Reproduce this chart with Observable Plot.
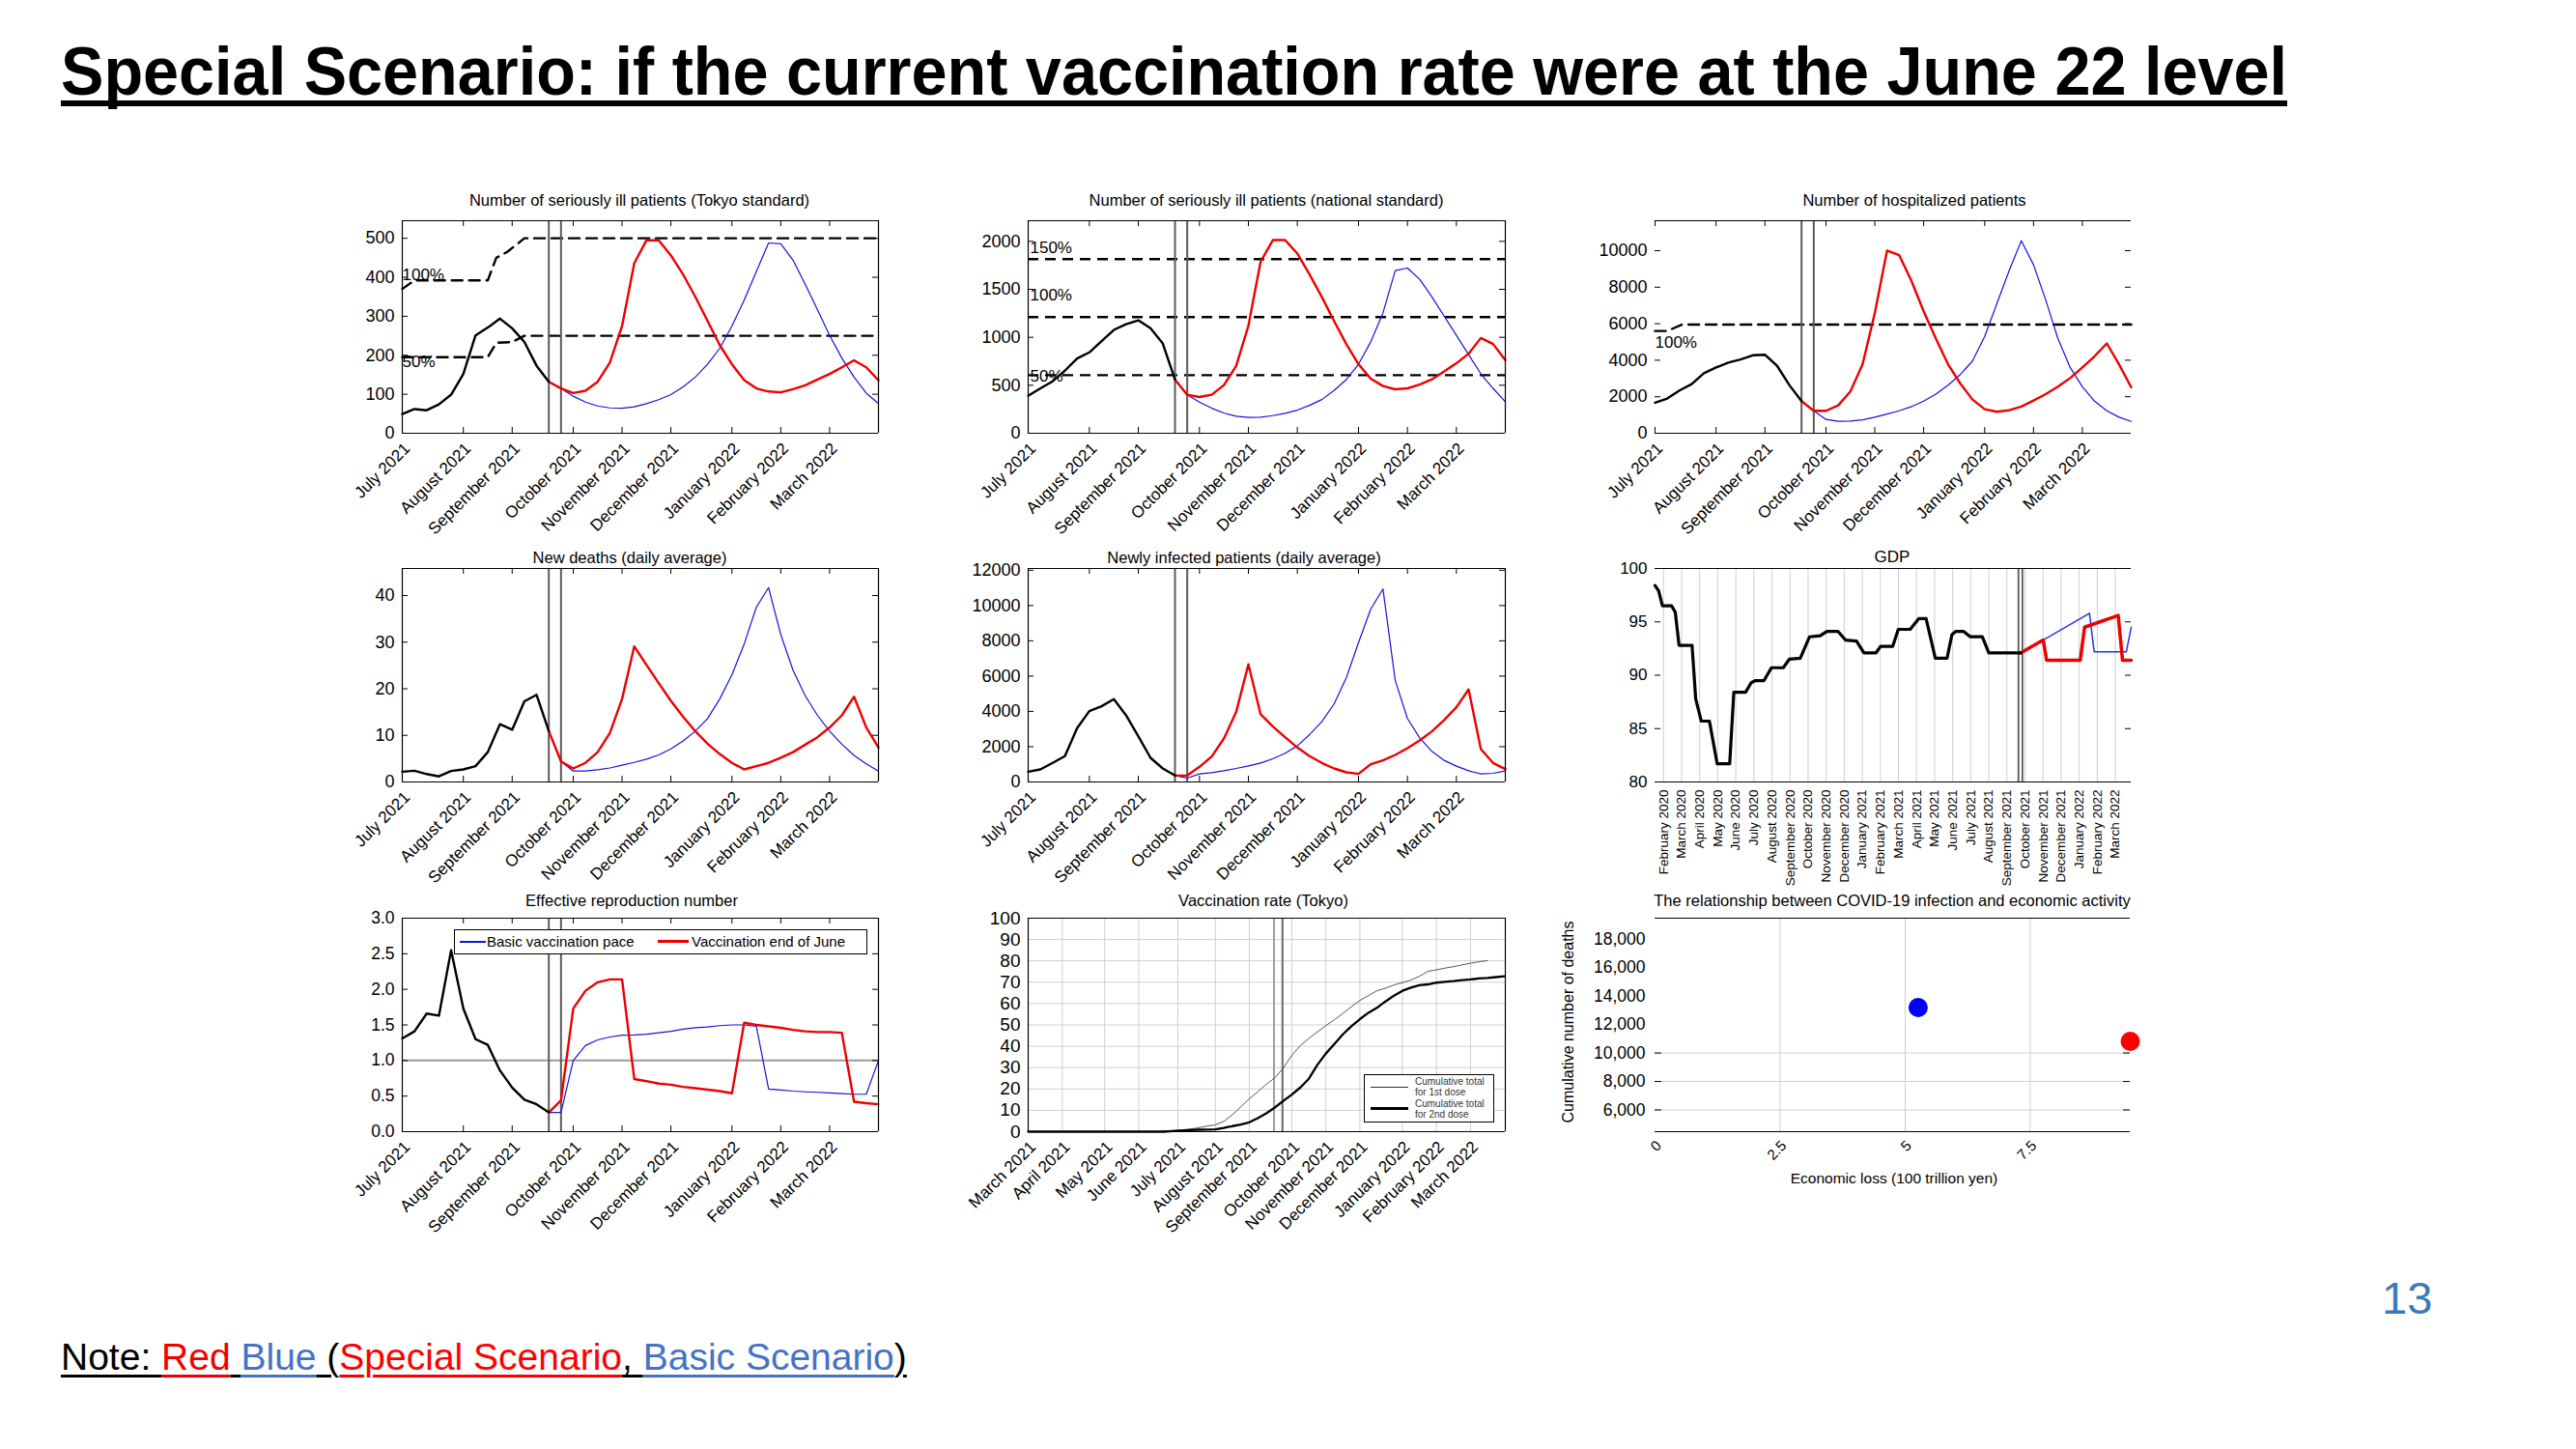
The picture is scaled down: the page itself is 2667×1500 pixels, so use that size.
<!DOCTYPE html>
<html><head><meta charset="utf-8">
<script src="https://cdn.jsdelivr.net/npm/d3@7"></script>
<script src="https://cdn.jsdelivr.net/npm/@observablehq/plot@0.6"></script>
<style>
body{margin:0;background:#fff;}
#page{position:relative;width:2667px;height:1500px;background:#fff;overflow:hidden;font-family:"Liberation Sans",Arial,Helvetica,sans-serif;}
.ptitle{position:absolute;font-size:16.5px;color:#000;white-space:nowrap;transform:translate(-50%,-50%);}
</style></head><body><div id="page"></div>
<script>
// ================= DATA =================
const TITLE = "Special Scenario: if the current vaccination rate were at the June 22 level";
const panelTitles = ["Number of seriously ill patients (Tokyo standard)","Number of seriously ill patients (national standard)","Number of hospitalized patients","New deaths (daily average)","Newly infected patients (daily average)","GDP","Effective reproduction number","Vaccination rate  (Tokyo)","The relationship between COVID-19 infection and economic activity"];

// weekly x axis (week 0 = start of July 2021)
const weekTicks = [0,5,9,14,18,22,27,31,35];
const weekTickLabels = ["July 2021","August 2021","September 2021","October 2021","November 2021","December 2021","January 2022","February 2022","March 2022"];
const markerWeeks = [12,13];
// black = observed (weeks 0-12), red = special scenario (weeks 12-39), blue = basic scenario (weeks 12-39)

const tokyoBlack = [49,62,59,74,99,152,251,271,294,269,234,173,132];
const tokyoRed = [132,115,103,109,132,181,275,436,495,495,456,407,350,288,226,177,136,115,107,105,113,123,138,152,169,187,169,136];
const tokyoBlue = [132,115,95,80,70,65,64,68,76,86,99,119,144,177,218,275,341,415,488,486,444,382,317,251,193,144,103,76];
const tokyoCap100W = [0,1,7,7.7,8.6,10,39];
const tokyoCap100V = [370,392,392,450,465,500,500];
const tokyoCap50W = [0,7,7.7,9,10,39];
const tokyoCap50V = [195,195,232,234,250,250];
const tokyoCapLabels = ["100%","50%"];
const tokyoCapLabelY = [405,183];

const natBlack = [391,468,542,652,779,843,960,1077,1137,1177,1094,936,560];
const natRed = [560,401,378,401,502,702,1120,1789,2013,2013,1873,1655,1421,1171,930,719,569,492,458,468,508,562,645,729,829,993,930,763];
const natBlue = [560,401,324,261,211,177,164,167,184,207,241,291,351,445,559,719,953,1254,1696,1722,1605,1421,1221,1020,819,619,468,328];
const natLevels = [605,1210,1815];
const natLevelLabels = ["50%","100%","150%"];
const natLevelLabelY = [594,1441,1937];

const hospBlack = [1670,1900,2340,2690,3290,3600,3870,4040,4270,4300,3690,2640,1760];
const hospRed = [1760,1230,1230,1529,2285,3779,6590,10000,9750,8348,6678,5184,3779,2724,1845,1318,1177,1265,1459,1793,2144,2548,3023,3603,4218,4921,3779,2513];
const hospBlue = [1760,1230,756,650,668,738,879,1054,1230,1459,1757,2144,2636,3216,3954,5300,7100,8900,10545,9227,7293,5184,3603,2548,1757,1230,879,650];
const hospCapW = [0,1,2.2,39];
const hospCapV = [5600,5600,5950,5950];
const hospCapLabelY = [4960];

const deathsBlack = [2.2,2.4,1.7,1.2,2.35,2.7,3.4,6.4,12.4,11.2,17.3,18.7,10.9];
const deathsRed = [10.9,4.4,2.9,4.1,6.4,10.5,17.8,29.1,25.1,21.2,17.4,14.0,10.9,8.2,6.0,4.1,2.7,3.4,4.1,5.2,6.4,8.0,9.6,11.7,14.3,18.3,11.7,7.4];
const deathsBlue = [10.9,4.4,2.35,2.35,2.6,3.0,3.6,4.2,4.9,5.8,7.1,8.8,10.9,13.6,17.8,23.0,29.6,37.5,41.7,31.6,24.0,18.5,14.3,10.9,8.1,5.7,3.9,2.35];

const infBlack = [584,712,1078,1461,3050,4018,4292,4694,3781,2594,1370,767,365];
const infRed = [365,365,858,1443,2466,3963,6667,3836,3142,2539,1954,1461,1078,767,548,457,1005,1224,1534,1918,2356,2868,3507,4237,5242,1863,1078,731];
const infBlue = [365,219,457,530,639,767,913,1078,1315,1626,2046,2685,3415,4420,5900,7900,9800,10940,5753,3598,2502,1735,1224,895,639,457,493,621];

// GDP (month index: 0 = February 2020)
const gdpMonthLabels = ["February 2020","March 2020","April 2020","May 2020","June 2020","July 2020","August 2020","September 2020","October 2020","November 2020","December 2020","January 2021","February 2021","March 2021","April 2021","May 2021","June 2021","July 2021","August 2021","September 2021","October 2021","November 2021","December 2021","January 2022","February 2022","March 2022"];
const gdpBlackM = [-0.47,-0.27,-0.06,0.45,0.65,0.86,1.58,1.78,2.09,2.54,2.97,3.66,3.89,4.54,4.85,5.09,5.56,5.97,6.63,6.96,7.57,8.08,8.67,9.04,9.66,10.07,10.68,11.09,11.76,12.01,12.68,12.99,13.65,14.12,14.53,15.04,15.69,15.96,16.16,16.61,16.98,17.64,18.0,19.78];
const gdpBlackV = [98.4,97.9,96.5,96.5,95.9,92.8,92.8,87.8,85.7,85.7,81.7,81.7,88.4,88.4,89.3,89.5,89.5,90.7,90.7,91.5,91.6,93.6,93.7,94.1,94.1,93.3,93.2,92.1,92.1,92.7,92.7,94.3,94.3,95.3,95.3,91.6,91.6,93.8,94.1,94.1,93.6,93.6,92.1,92.1];
const gdpRedM = [19.78,21.01,21.2,23.06,23.3,25.16,25.4,25.88];
const gdpRedV = [92.1,93.3,91.4,91.4,94.5,95.6,91.4,91.4];
const gdpBlueM = [19.78,21.01,23.57,23.83,25.61,25.88];
const gdpBlueV = [92.1,93.3,95.8,92.2,92.2,94.5];
const gdpMarkers = [19.64,19.86];

const rtBlack = [1.31,1.41,1.66,1.63,2.55,1.73,1.30,1.22,0.86,0.62,0.45,0.385,0.27];
const rtRed = [0.27,0.44,1.73,1.98,2.10,2.14,2.14,0.74,0.71,0.675,0.66,0.63,0.61,0.59,0.57,0.54,1.53,1.50,1.48,1.46,1.43,1.41,1.40,1.40,1.39,0.42,0.40,0.385];
const rtBlue = [0.27,0.27,1.0,1.21,1.29,1.33,1.355,1.36,1.37,1.39,1.41,1.44,1.46,1.47,1.49,1.50,1.50,1.48,0.60,0.585,0.57,0.56,0.553,0.544,0.535,0.526,0.526,1.0];
const rtThreshold = [1];
const rtLegend = ["Basic vaccination pace","Vaccination end of June"];

// Vaccination rate (week index: 0 = start of March 2021)
const vaxTicks = [0,4,9,13,17.6,22,26,31,35,39,44,48,52];
const vaxTickLabels = ["March 2021","April 2021","May 2021","June 2021","July 2021","August 2021","September 2021","October 2021","November 2021","December 2021","January 2022","February 2022","March 2022"];
const vaxDose1 = [0,0,0,0,0,0,0,0,0,0,0,0,0,0,0,0,0.3,0.5,0.8,1.2,1.8,2.6,3.2,4.8,7.9,11.6,15.4,18.7,22.2,25.2,29.8,35.8,40.3,43.7,46.7,49.7,52.4,55.4,58.5,61.5,63.7,66,67.2,68.7,69.8,71,72.8,75.1,75.8,76.6,77.3,78.1,78.9,79.6,80.1];
const vaxDose2 = [0,0,0,0,0,0,0,0,0,0,0,0,0,0,0,0,0,0.3,0.5,0.7,0.9,1.0,1.1,1.8,2.6,3.3,4.4,6.3,8.6,11.3,14.4,17.4,20.7,24.8,31.3,36.6,41.1,45.6,49.4,52.7,55.7,58,61,63.7,66,67.5,68.6,69,69.8,70.2,70.5,71,71.3,71.8,72,72.4,72.8];
const vaxMarkers = [28.9,29.9];
const vaxLegend = [["Cumulative total","for 1st dose"],["Cumulative total","for 2nd dose"]];

// Scatter
const scatterScenario = ["Basic Scenario","Special Scenario"];
const scatterLoss = [5.26,9.5];
const scatterDeaths = [13200,10820];
const scatterXTicks = [0,2.5,5,7.5];
const scatterYTicks = [6000,8000,10000,12000,14000,16000,18000];
const scatterGridY = [6000,8000,10000];

// ================= RENDER =================
const page = document.getElementById("page");
const FONT = '"Liberation Sans", Arial, Helvetica, sans-serif';
const RED = "#ee0000", BLUE = "#1414dc", VLINE = "#5a5a5a", GRID = "#cfcfcf";
const XFS = 17;

const seq = (vals, start) => vals.map((v, i) => ({w: start + i, v}));
const zip = (ws, vs) => ws.map((w, i) => ({w, v: vs[i]}));
const lookup = (ticks, labels) => { const m = new Map(ticks.map((t, i) => [t, labels[i]])); return d => m.get(d); };

function innerY(ticks, fw, sides = "lr", len = 6) {
  const m = [];
  if (sides.includes("l")) m.push(Plot.tickY(ticks, {y: d => d, stroke: "#000", strokeWidth: 1, insetRight: fw - len}));
  if (sides.includes("r")) m.push(Plot.tickY(ticks, {y: d => d, stroke: "#000", strokeWidth: 1, insetLeft: fw - len}));
  return m;
}
function innerX(ticks, fh, len = 6) {
  return [Plot.tickX(ticks, {x: d => d, stroke: "#000", strokeWidth: 1, insetTop: fh - len}),
          Plot.tickX(ticks, {x: d => d, stroke: "#000", strokeWidth: 1, insetBottom: fh - len})];
}
function box(xd, yd, sides) {
  const m = [];
  if (sides.includes("t")) m.push(Plot.ruleY([yd[1]], {stroke: "#000", strokeWidth: 1.2}));
  if (sides.includes("b")) m.push(Plot.ruleY([yd[0]], {stroke: "#000", strokeWidth: 1.2}));
  if (sides.includes("l")) m.push(Plot.ruleX([xd[0]], {stroke: "#000", strokeWidth: 1.2}));
  if (sides.includes("r")) m.push(Plot.ruleX([xd[1]], {stroke: "#000", strokeWidth: 1.2}));
  return m;
}
function panel(o) {
  const {fl, ft, fw, fh, mL = 90, mR = 20, mT = 14, mB = 160, xd, yd, marks, fs = 15} = o;
  const svg = Plot.plot({
    width: mL + fw + mR, height: mT + fh + mB,
    marginLeft: mL, marginRight: mR, marginTop: mT, marginBottom: mB,
    x: {domain: xd}, y: {domain: yd},
    style: {fontFamily: FONT, fontSize: fs + "px", background: "transparent", overflow: "visible", color: "#000"},
    marks
  });
  Object.assign(svg.style, {position: "absolute", left: (fl - mL) + "px", top: (ft - mT) + "px"});
  page.appendChild(svg);
}
function html(tag, css, text) {
  const e = document.createElement(tag);
  e.style.cssText = css;
  if (text != null) e.textContent = text;
  page.appendChild(e);
  return e;
}

const fmtInt = d => String(d);

function weekPanel(o) {
  const {fl, ft, fw = 493, fh = 220, yd, yTicks, yFmt = fmtInt, black, red, blue, extra = [], sides = "tblr", fs = 18, tickSides = "lr"} = o;
  const xd = [0, 39];
  panel({fl, ft, fw, fh, xd, yd, fs, marks: [
    ...extra,
    Plot.ruleX(markerWeeks, {stroke: VLINE, strokeWidth: 2}),
    Plot.line(seq(blue, 12), {x: "w", y: "v", stroke: BLUE, strokeWidth: 1.2}),
    Plot.line(seq(red, 12), {x: "w", y: "v", stroke: RED, strokeWidth: 2.4}),
    Plot.line(seq(black, 0), {x: "w", y: "v", stroke: "#000", strokeWidth: 2.4}),
    ...box(xd, yd, sides),
    ...innerY(yTicks, fw, tickSides),
    ...innerX(weekTicks, fh),
    Plot.axisY({ticks: yTicks, tickSize: 0, tickPadding: 8, fontSize: fs, label: null, tickFormat: yFmt}),
    Plot.axisX({ticks: weekTicks, tickFormat: lookup(weekTicks, weekTickLabels), tickRotate: -45, tickSize: 0, tickPadding: 13, dx: 5, fontSize: XFS, label: null})
  ]});
}

const dashStyle = {stroke: "#000", strokeWidth: 2.4, strokeDasharray: "11,7"};

// Panel 1 – Tokyo standard
weekPanel({fl: 416, ft: 228, yd: [0, 545], yTicks: [0,100,200,300,400,500], black: tokyoBlack, red: tokyoRed, blue: tokyoBlue,
  extra: [
    Plot.line(zip(tokyoCap100W, tokyoCap100V), {x: "w", y: "v", ...dashStyle}),
    Plot.line(zip(tokyoCap50W, tokyoCap50V), {x: "w", y: "v", ...dashStyle}),
    Plot.text(tokyoCapLabels, {x: () => 0, y: (d, i) => tokyoCapLabelY[i], text: d => d, textAnchor: "start", fontSize: 17})
  ]});

// Panel 2 – national standard
weekPanel({fl: 1064, ft: 228, fw: 494, yd: [0, 2215], yTicks: [0,500,1000,1500,2000], black: natBlack, red: natRed, blue: natBlue,
  extra: [
    Plot.ruleY(natLevels, {...dashStyle}),
    Plot.text(natLevelLabels, {x: () => 0, y: (d, i) => natLevelLabelY[i], text: d => d, textAnchor: "start", dx: 2, fontSize: 17})
  ]});

// Panel 3 – hospitalized
weekPanel({fl: 1713, ft: 228, yd: [0, 11640], yTicks: [0,2000,4000,6000,8000,10000], black: hospBlack, red: hospRed, blue: hospBlue, sides: "tb",
  extra: [
    Plot.line(zip(hospCapW, hospCapV), {x: "w", y: "v", ...dashStyle}),
    Plot.text(["100%"], {x: () => 0, y: (d, i) => hospCapLabelY[i], text: d => d, textAnchor: "start", fontSize: 17})
  ]});

// Panel 4 – new deaths
weekPanel({fl: 416, ft: 588, fh: 221, yd: [0, 45.8], yTicks: [0,10,20,30,40], black: deathsBlack, red: deathsRed, blue: deathsBlue});

// Panel 5 – newly infected
weekPanel({fl: 1064, ft: 588, fw: 494, fh: 221, yd: [0, 12100], yTicks: [0,2000,4000,6000,8000,10000,12000], black: infBlack, red: infRed, blue: infBlue});

// Panel 6 – GDP
(() => {
  const fl = 1713, ft = 588, fw = 493, fh = 221, xd = [-0.47, 25.88], yd = [80, 100];
  const mt = gdpMonthLabels.map((_, i) => i);
  const yT = [80,85,90,95,100];
  panel({fl, ft, fw, fh, xd, yd, fs: 17, marks: [
    Plot.gridX(mt, {stroke: GRID, strokeOpacity: 1, strokeWidth: 1}),
    Plot.ruleX(gdpMarkers, {stroke: VLINE, strokeWidth: 1.8}),
    Plot.line(zip(gdpBlueM, gdpBlueV), {x: "w", y: "v", stroke: "#2233ee", strokeWidth: 1.5}),
    Plot.line(zip(gdpRedM, gdpRedV), {x: "w", y: "v", stroke: RED, strokeWidth: 3.5}),
    Plot.line(zip(gdpBlackM, gdpBlackV), {x: "w", y: "v", stroke: "#000", strokeWidth: 3.2}),
    ...box(xd, yd, "tb"),
    ...innerY(yT, fw, "lr"),
    Plot.axisY({ticks: yT, tickSize: 0, tickPadding: 8, fontSize: 17, label: null}),
    Plot.axisX({ticks: mt, tickFormat: lookup(mt, gdpMonthLabels), tickRotate: -90, tickSize: 0, tickPadding: 8, fontSize: 13.5, label: null})
  ]});
})();

// Panel 7 – effective reproduction number
weekPanel({fl: 416, ft: 950, fh: 221, yd: [0, 3], yTicks: [0,0.5,1,1.5,2,2.5,3], yFmt: d3.format(".1f"), black: rtBlack, red: rtRed, blue: rtBlue, fs: 17.5,
  extra: [Plot.ruleY(rtThreshold, {stroke: "#9a9a9a", strokeWidth: 2})]});

// Panel 8 – vaccination rate
(() => {
  const fl = 1064, ft = 950, fw = 494, fh = 221, xd = [0, 56.1], yd = [0, 100];
  const yT = [0,10,20,30,40,50,60,70,80,90,100];
  panel({fl, ft, fw, fh, xd, yd, fs: 19, marks: [
    Plot.gridX(vaxTicks, {stroke: GRID, strokeOpacity: 1}),
    Plot.gridY(yT, {stroke: GRID, strokeOpacity: 1}),
    Plot.ruleX([vaxMarkers[0]], {stroke: "#a0a0a0", strokeWidth: 2}),
    Plot.ruleX([vaxMarkers[1]], {stroke: "#6a6a6a", strokeWidth: 2}),
    Plot.line(seq(vaxDose1, 0), {x: "w", y: "v", stroke: "#444", strokeWidth: 0.9}),
    Plot.line(seq(vaxDose2, 0), {x: "w", y: "v", stroke: "#000", strokeWidth: 2.3}),
    ...box(xd, yd, "tblr"),
    Plot.axisY({ticks: yT, tickSize: 0, tickPadding: 8, fontSize: 19, label: null}),
    Plot.axisX({ticks: vaxTicks, tickFormat: lookup(vaxTicks, vaxTickLabels), tickRotate: -45, tickSize: 0, tickPadding: 13, dx: 5, fontSize: XFS, label: null})
  ]});
})();

// Panel 9 – scatter
(() => {
  const fl = 1713, ft = 950, fw = 492, fh = 221, xd = [0, 9.5], yd = [4470, 19480];
  const pts = scatterScenario.map((s, i) => ({s, x: scatterLoss[i], y: scatterDeaths[i]}));
  panel({fl, ft, fw, fh, xd, yd, fs: 17.5, marks: [
    Plot.gridX(scatterXTicks.slice(1), {stroke: GRID, strokeOpacity: 1}),
    Plot.gridY(scatterGridY, {stroke: GRID, strokeOpacity: 1}),
    ...box(xd, yd, "tb"),
    ...innerY(scatterGridY, fw, "lr", 7),
    Plot.dot(pts, {x: "x", y: "y", r: 10, fill: d => d.s === "Basic Scenario" ? "#0000ff" : "#ff0000", stroke: "none"}),
    Plot.axisY({ticks: scatterYTicks, tickSize: 0, tickPadding: 10, fontSize: 17.5, label: null, tickFormat: d3.format(",")}),
    Plot.axisX({ticks: scatterXTicks, tickRotate: -45, tickSize: 0, tickPadding: 12, dx: 4, fontSize: 15, label: null, tickFormat: d => String(d)})
  ]});
})();

// ---------- panel titles ----------
const titlePos = [[662,207],[1311,207],[1982,207],[652,577],[1288,577],[1959,577],[654,932],[1308,932],[1959,932]];
panelTitles.forEach((t, i) => {
  const e = html("div", "", t);
  e.className = "ptitle";
  e.style.left = titlePos[i][0] + "px";
  e.style.top = titlePos[i][1] + "px";
  if (i === 5) e.style.fontSize = "17px";
});

// ---------- scatter axis labels ----------
html("div", "position:absolute;left:1624px;top:1058px;font-size:16px;white-space:nowrap;transform:translate(-50%,-50%) rotate(-90deg);", "Cumulative number of deaths");
html("div", "position:absolute;left:1961px;top:1220px;font-size:15.5px;white-space:nowrap;transform:translate(-50%,-50%);", "Economic loss (100 trillion yen)");

// ---------- legend (effective reproduction number) ----------
(() => {
  const lg = html("div", "position:absolute;left:470px;top:962px;width:426px;height:24px;border:1px solid #000;background:#fff;font-size:15px;white-space:nowrap;");
  lg.innerHTML = `<span style="position:absolute;left:5px;top:11px;width:27px;height:1.5px;background:${BLUE}"></span>` +
    `<span style="position:absolute;left:33px;top:3px;">${rtLegend[0]}</span>` +
    `<span style="position:absolute;left:210px;top:10px;width:32px;height:2.5px;background:${RED}"></span>` +
    `<span style="position:absolute;left:245px;top:3px;">${rtLegend[1]}</span>`;
})();

// ---------- legend (vaccination) ----------
(() => {
  const lg = html("div", "position:absolute;left:1412px;top:1112px;width:133px;height:48px;border:1px solid #000;background:#fff;font-size:10px;line-height:10.5px;color:#333;white-space:nowrap;");
  lg.innerHTML = `<span style="position:absolute;left:6px;top:12px;width:39px;height:1px;background:#333"></span>` +
    `<span style="position:absolute;left:52px;top:2px;">${vaxLegend[0][0]}<br>${vaxLegend[0][1]}</span>` +
    `<span style="position:absolute;left:6px;top:33px;width:39px;height:3px;background:#000"></span>` +
    `<span style="position:absolute;left:52px;top:25px;">${vaxLegend[1][0]}<br>${vaxLegend[1][1]}</span>`;
})();

// ---------- main title ----------
(() => {
  const ns = "http://www.w3.org/2000/svg";
  const s = document.createElementNS(ns, "svg");
  s.setAttribute("width", 2667); s.setAttribute("height", 130);
  s.style.cssText = "position:absolute;left:0;top:0;";
  const t = document.createElementNS(ns, "text");
  t.setAttribute("x", 63); t.setAttribute("y", 98);
  t.setAttribute("font-family", '"Liberation Sans Narrow","Liberation Sans",Arial,sans-serif');
  t.setAttribute("font-weight", "bold"); t.setAttribute("font-size", 71);
  t.setAttribute("textLength", 2305); t.setAttribute("lengthAdjust", "spacingAndGlyphs");
  t.textContent = TITLE;
  s.appendChild(t);
  const r = document.createElementNS(ns, "rect");
  r.setAttribute("x", 63); r.setAttribute("y", 104); r.setAttribute("width", 2305); r.setAttribute("height", 6);
  s.appendChild(r);
  page.appendChild(s);
})();

// ---------- note ----------
(() => {
  const n = html("div", "position:absolute;left:63px;top:1385px;font-size:39px;line-height:39px;white-space:pre;");
  const parts = [["Note: ","#000"],["Red",RED],[" ","#000"],["Blue","#4472c4"],[" (","#000"],["Special Scenario","#ff0000"],[", ","#000"],["Basic Scenario","#4472c4"],[")","#000"]];
  parts.forEach(([t, c]) => {
    const sp = document.createElement("span");
    sp.textContent = t; sp.style.color = c; sp.style.textDecoration = "underline"; sp.style.textDecorationColor = c;
    sp.style.textDecorationThickness = "3px"; sp.style.textUnderlineOffset = "5px";
    n.appendChild(sp);
  });
})();

// ---------- page number ----------
html("div", "position:absolute;left:2466px;top:1320px;font-size:47px;line-height:47px;color:#3a7ab8;", "13");
</script></body></html>
